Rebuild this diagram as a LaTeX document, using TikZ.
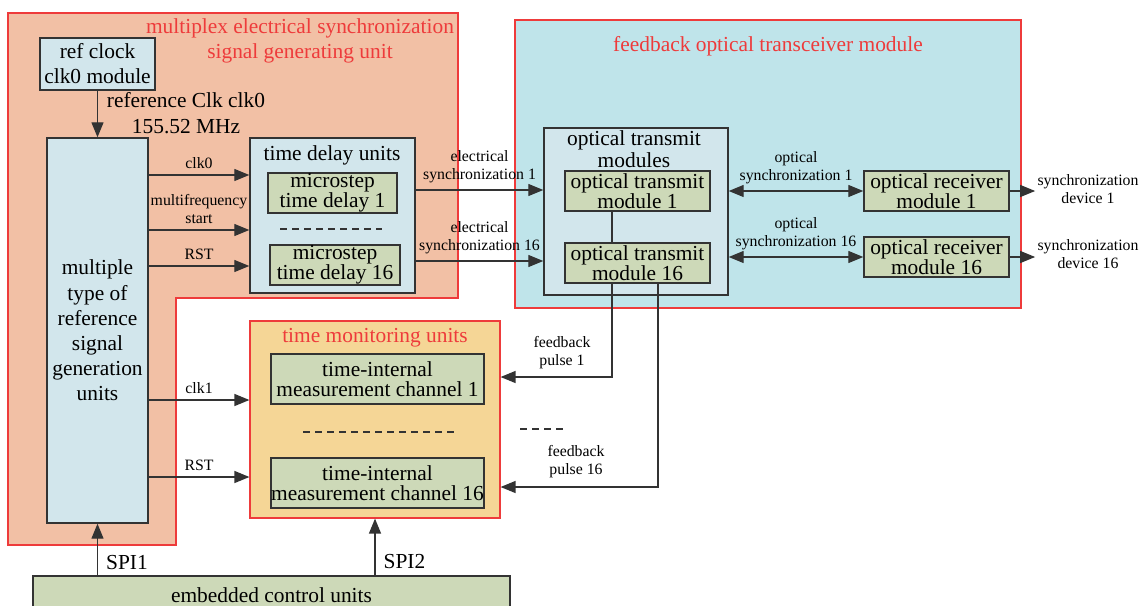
\documentclass[tikz,border=0pt]{standalone}
\usepackage{fontspec}
\setmainfont{Liberation Serif}
\usepackage{tikz}
\usetikzlibrary{positioning,calc,arrows.meta}

\definecolor{unitorange}{HTML}{F2C0A5}
\definecolor{transcyan}{HTML}{BFE4EA}
\definecolor{monyellow}{HTML}{F5D696}
\definecolor{boxblue}{HTML}{D2E6EC}
\definecolor{boxgreen}{HTML}{CDD9B8}
\definecolor{regionred}{HTML}{EE3B3B}

\tikzset{
    region/.style={draw=regionred, line width=0.6pt},
    block/.style={draw=black!80, line width=0.7pt, align=center, inner sep=0pt,
        font=\fontsize{10.7}{9.8}\selectfont},
    bluebox/.style={block, fill=boxblue},
    greenbox/.style={block, fill=boxgreen},
    bigtext/.style={align=center, inner sep=0pt, font=\fontsize{10.7}{12.8}\selectfont},
    regiontitle/.style={bigtext, text=regionred},
    small/.style={align=center, inner sep=3pt, font=\fontsize{7.9}{9}\selectfont},
    wire/.style={draw=black!80, line width=0.65pt},
    dashline/.style={draw=black!80, line width=0.6pt, dash pattern=on 3.5pt off 2.5pt}
}

\begin{document}
\begin{tikzpicture}[x=0.5pt, y=-0.5pt, >={Triangle[length=7.5pt,width=6pt]}]
    \useasboundingbox (0,0) rectangle (1140,605);

    % Regions
    \draw[region, fill=unitorange] (8,13) -- (458,13) -- (458,298) -- (176,298) -- (176,545) -- (8,545) -- cycle;
    \draw[region, fill=transcyan] (515,20) rectangle (1021,308);
    \node[region, fill=monyellow, minimum width=125pt, minimum height=98.5pt] (monitor) at (375,419.5) {};

    % Region titles
    \node[regiontitle] (elecTitle) at (300,41) {multiplex electrical synchronization\\signal generating unit};
    \node[regiontitle] (optTitle) at (768,46) {feedback optical transceiver module};
    \node[regiontitle] (monTitle) at (375,338) {time monitoring units};

    % Reference clock and signal generation
    \node[bluebox, font=\fontsize{10.7}{12.5}\selectfont, minimum width=57.5pt, minimum height=26pt] (refclk) at (97.5,64) {ref clock\\clk0 module};
    \node[bluebox, font=\fontsize{10.7}{12.6}\selectfont, minimum width=50.5pt, minimum height=192.5pt] (gen) at (97.5,330.5) {multiple\\type of\\reference\\signal\\generation\\units};
    \node[bigtext, font=\fontsize{10.7}{13}\selectfont] (refLabel) at (186,113) {reference Clk clk0\\155.52 MHz};

    % Time delay units
    \node[bluebox, minimum width=82.5pt, minimum height=77.5pt] (delay) at (332.5,215.5) {};
    \node[bigtext] (delayTitle) at (332,155) {time delay units};
    \node[greenbox, minimum width=64.5pt, minimum height=20pt] (md1) at (332.5,193) {microstep\\time delay 1};
    \node[greenbox, minimum width=65pt, minimum height=20pt] (md16) at (335,265) {microstep\\time delay 16};
    \draw[dashline] (280,229) -- (382,229);

    % Optical transmit modules
    \node[bluebox, minimum width=92pt, minimum height=83.5pt] (trans) at (636,211.5) {};
    \node[bigtext, font=\fontsize{10.7}{8.8}\selectfont] (transTitle) at (634,149) {optical transmit\\modules};
    \node[greenbox, minimum width=72.5pt, minimum height=20pt] (ot1) at (637.5,191) {optical transmit\\module 1};
    \node[greenbox, minimum width=72.5pt, minimum height=20pt] (ot16) at (637.5,263) {optical transmit\\module 16};

    % Optical receivers
    \node[greenbox, minimum width=72.5pt, minimum height=20pt] (or1) at (936.5,191) {optical receiver\\module 1};
    \node[greenbox, minimum width=72.5pt, minimum height=20pt] (or16) at (936.5,257) {optical receiver\\module 16};
    \node[small, inner sep=1pt] (dev1) at (1088,189) {synchronization\\device 1};
    \node[small, inner sep=1pt] (dev16) at (1088,254) {synchronization\\device 16};

    % Time monitoring channels
    \node[greenbox, minimum width=106.5pt, minimum height=25pt] (mc1) at (377.5,379) {time-internal\\measurement channel 1};
    \node[greenbox, minimum width=106.5pt, minimum height=25pt] (mc16) at (377.5,483) {time-internal\\measurement channel 16};
    \draw[dashline] (303,432) -- (458,432);
    \draw[dashline] (520,429) -- (565,429);

    % Control
    \node[greenbox, minimum width=238.5pt, minimum height=19pt] (ecu) at (271.5,595) {embedded control units};

    % Clock distribution
    \draw[->, wire] (refclk) -- (gen);
    \draw[->, wire] (gen.east |- 0,175) -- (delay.west |- 0,175) node[midway, above, small] {clk0};
    \draw[->, wire] (gen.east |- 0,230) -- (delay.west |- 0,230) node[midway, above, small] {multifrequency\\start};
    \draw[->, wire] (gen.east |- 0,266) -- (delay.west |- 0,266) node[midway, above, small] {RST};
    \draw[->, wire] (gen.east |- 0,400) -- (monitor.west |- 0,400) node[midway, above, small] {clk1};
    \draw[->, wire] (gen.east |- 0,477) -- (monitor.west |- 0,477) node[midway, above, small] {RST};

    % Electrical and optical synchronization
    \draw[->, wire] (delay.east |- 0,190) -- (trans.west |- 0,190) node[midway, above, small] {electrical\\synchronization 1};
    \draw[->, wire] (delay.east |- 0,261) -- (trans.west |- 0,261) node[midway, above, small] {electrical\\synchronization 16};
    \draw[<->, wire] (trans.east |- or1) -- (or1.west) node[midway, above, small] {optical\\synchronization 1};
    \draw[<->, wire] (trans.east |- or16) -- (or16.west) node[midway, above, small] {optical\\synchronization 16};
    \draw[->, wire] (or1.east) -- (dev1.west |- or1.east);
    \draw[->, wire] (or16.east) -- (dev16.west |- or16.east);

    % Feedback pulses
    \draw[wire] (ot1.south -| 612,0) -- (ot16.north -| 612,0);
    \draw[->, wire] (ot16.south -| 612,0) |- (monitor.east |- 0,377);
    \draw[->, wire] (ot16.south -| 658,0) |- (monitor.east |- 0,487);
    \node[small] (fb1) at (562,353) {feedback\\pulse 1};
    \node[small] (fb16) at (576,462) {feedback\\pulse 16};

    % SPI
    \draw[->, wire] (ecu.north -| gen) -- (gen.south) node[pos=0.25, right=4pt, bigtext] {SPI1};
    \draw[->, wire] (ecu.north -| monitor) -- (monitor.south) node[pos=0.25, right=4pt, bigtext] {SPI2};
\end{tikzpicture}
\end{document}
